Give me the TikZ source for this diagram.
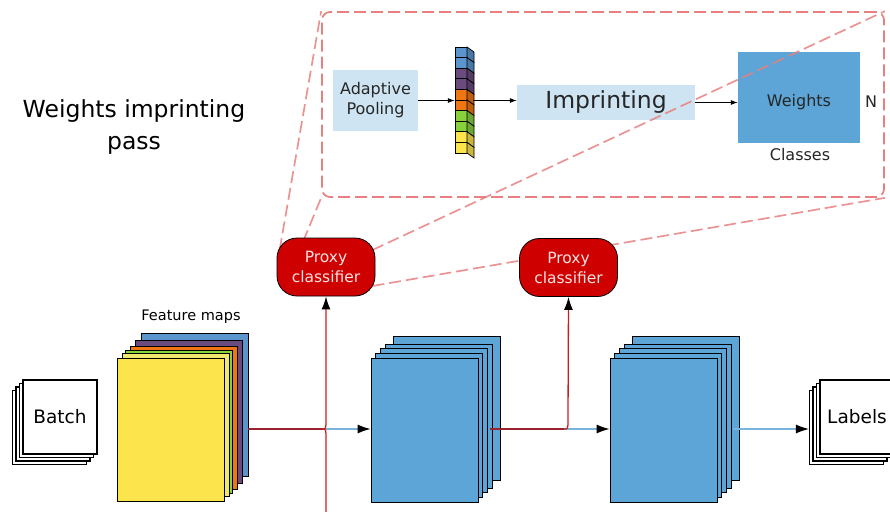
\documentclass[tikz,border=0pt]{standalone}
\usepackage{fontspec}
\setmainfont{DejaVu Sans}
\usetikzlibrary{arrows.meta,calc}
\pgfdeclarelayer{front}
\pgfsetlayers{main,front}

\definecolor{pinkdash}{RGB}{232,128,128}
\definecolor{paleblue}{RGB}{206,228,242}
\definecolor{wblue}{RGB}{92,165,214}
\definecolor{proxyred}{RGB}{206,0,0}
\definecolor{proxytext}{RGB}{255,226,226}
\definecolor{linkred}{RGB}{205,30,30}
\definecolor{darklink}{RGB}{150,35,45}
\definecolor{linkblue}{RGB}{120,180,220}
\definecolor{fmyellow}{RGB}{252,228,76}
\definecolor{fmyellowb}{RGB}{240,232,110}
\definecolor{fmgreen}{RGB}{135,210,60}
\definecolor{fmorange}{RGB}{240,118,20}
\definecolor{fmpurple}{RGB}{105,75,125}
\definecolor{fmblue}{RGB}{90,150,205}

\tikzset{
  fs/.style={font=\fontsize{#1}{20}\selectfont},
  panel/.style={draw=pinkdash, line width=1.7pt, dash pattern=on 12pt off 5pt,
    rounded corners=8pt, minimum width=562pt, minimum height=185pt, inner sep=0pt},
  zoomline/.style={draw=pinkdash, line width=1.7pt, dash pattern=on 12pt off 5pt, opacity=0.85},
  palebox/.style={fill=paleblue, inner sep=0pt, align=center, text=black!85},
  proxy/.style={rectangle, rounded corners=20pt, fill=proxyred, draw=black, line width=0.8pt,
    text=proxytext, minimum width=98pt, minimum height=58pt, inner sep=0pt, align=center,
    font=\fontsize{15.5}{20}\selectfont},
  sheet/.style={draw=black, fill=white, line width=1.1pt, inner sep=0pt},
  slab/.style={draw=black, line width=0.8pt, inner sep=0pt},
  bigtip/.style={-{Latex[length=13pt,width=9pt,color=black]}},
  smalltip/.style={-{Latex[length=7pt,width=5pt]}, line width=1pt},
  redlink/.style={draw=linkred, line width=1.3pt},
  darkredlink/.style={draw=darklink, line width=1.8pt},
  bluelink/.style={draw=linkblue, line width=1.2pt},
}

\begin{document}
\begin{tikzpicture}[x=1pt,y=-1pt]
\useasboundingbox (0,0) rectangle (890,511);

% title
\node[align=center, font=\fontsize{23.5}{32}\selectfont] (title) at (134,127) {Weights imprinting\\pass};

% zoomed-in panel of the imprinting pass
\node[panel] (panel) at (603,104.5) {};
\node[palebox, minimum width=85pt, minimum height=61pt, fs=16] (pool) at (375.5,100.5) {Adaptive\\Pooling};

% pooled feature vector
\node[inner sep=0pt, minimum width=18pt, minimum height=110pt] (vec) at (464,100.5) {};
\foreach \c [count=\i from 0] in {fmblue,fmblue,fmpurple,fmpurple,fmorange,fmorange,fmgreen,fmgreen,fmyellow,fmyellow} {
  \pgfmathsetmacro\ya{47+10.6*\i}
  \pgfmathsetmacro\yb{47+10.6*(\i+1)}
  \draw[fill=\c, line width=0.7pt] (455,\ya) rectangle (467,\yb);
  \draw[fill=\c!80!black, line width=0.7pt] (467,\ya) -- (474,{\ya+5}) -- (474,{\yb+5}) -- (467,\yb) -- cycle;
}

\node[palebox, minimum width=178pt, minimum height=35pt, fs=23.5] (imp) at (606,102.5) {Imprinting};
\node[fill=wblue, minimum width=122pt, minimum height=91pt, inner sep=0pt, fs=16, text=black!85,
      text height=17pt, text depth=0pt] (wts) at (799,97.5) {Weights};
\node[fs=16, text=black!85] (nlab) at (871,102) {N};
\node[fs=16, text=black!85] (cls) at (800,155) {Classes};

\draw[smalltip] (pool) -- (vec.west);
\draw[smalltip] (vec.east) -- (vec.east -| imp.west);
\draw[smalltip] (imp.east) -- (imp.east -| wts.west);

% proxy classifiers
\begin{pgfonlayer}{front}
\node[proxy] (p1) at (326,267) {Proxy\\classifier};
\node[proxy] (p2) at (568.5,267.5) {Proxy\\classifier};
\end{pgfonlayer}

% zoom guide lines
\draw[zoomline] ($(p1.west)+(3,-17)$) -- (panel.north west);
\draw[zoomline] ($(p1.north)+(-23,4)$) -- (panel.south west);
\draw[zoomline] ($(p1.east)+(-3,-17)$) -- (panel.north east);
\draw[zoomline] ($(p1.east)+(-3,19)$) -- (panel.south east);

% input batch
\foreach \k in {3,2,1}
  \node[sheet, minimum size=74pt] (batch\k) at ({60-3.5*\k},{417+3.5*\k}) {};
\node[sheet, minimum size=74pt, fs=18.5] (batch) at (60,417) {Batch};

% feature maps
\foreach \dx/\dy/\c in {24/25/fmblue, 18/18/fmpurple, 13/12/fmorange, 8/8/fmgreen, 5/5/fmyellowb}
  \draw[slab, fill=\c] ({117+\dx},{358-\dy}) rectangle ++(107,143);
\node[slab, fill=fmyellow, minimum width=107pt, minimum height=143pt] (fm) at (170.5,429.5) {};
\node[fs=14.5] (fmlab) at (191,317) {Feature maps};

% convolutional blocks
\foreach \d in {22,14.1,9.4,4.7}
  \draw[slab, fill=wblue] ({371+\d},{358-\d}) rectangle ++(107,144);
\node[slab, fill=wblue, minimum width=107pt, minimum height=144pt] (b1) at (424.5,430) {};
\foreach \d in {22,14.1,9.4,4.7}
  \draw[slab, fill=wblue] ({610+\d},{358-\d}) rectangle ++(107,144);
\node[slab, fill=wblue, minimum width=107pt, minimum height=144pt] (b2) at (663.5,430) {};

% output labels
\foreach \k in {3,2,1}
  \node[sheet, minimum size=74pt] (lab\k) at ({857-3.5*\k},{417+3.5*\k}) {};
\node[sheet, minimum size=74pt, fs=18.5] (lab) at (857,417) {Labels};

% connectors
\coordinate (fmout) at (248,429);
\coordinate (br1) at (322,429);
\coordinate (down) at (326,520);
\coordinate (b1out) at (490,429);
\coordinate (br2) at (564,429);
\coordinate (b2out) at (733,429);

\draw[darkredlink] (fmout) -- (br1);
\draw[bluelink, bigtip] (br1) -- (br1 -| b1.west);
\draw[redlink, bigtip] (br1) .. controls (326,429) .. (326,419) -- (p1.south);
\draw[redlink] (br1) .. controls (326,429) .. (326,439) -- (down);

\draw[darkredlink] (b1out) -- (br2);
\draw[bluelink, bigtip] (br2) -- (br2 -| b2.west);
\draw[redlink, bigtip] (br2) .. controls (568,429) .. (568,419) -- (p2.south);

\draw[bluelink, bigtip] (b2out) -- (b2out -| lab3.west);
\end{tikzpicture}
\end{document}
